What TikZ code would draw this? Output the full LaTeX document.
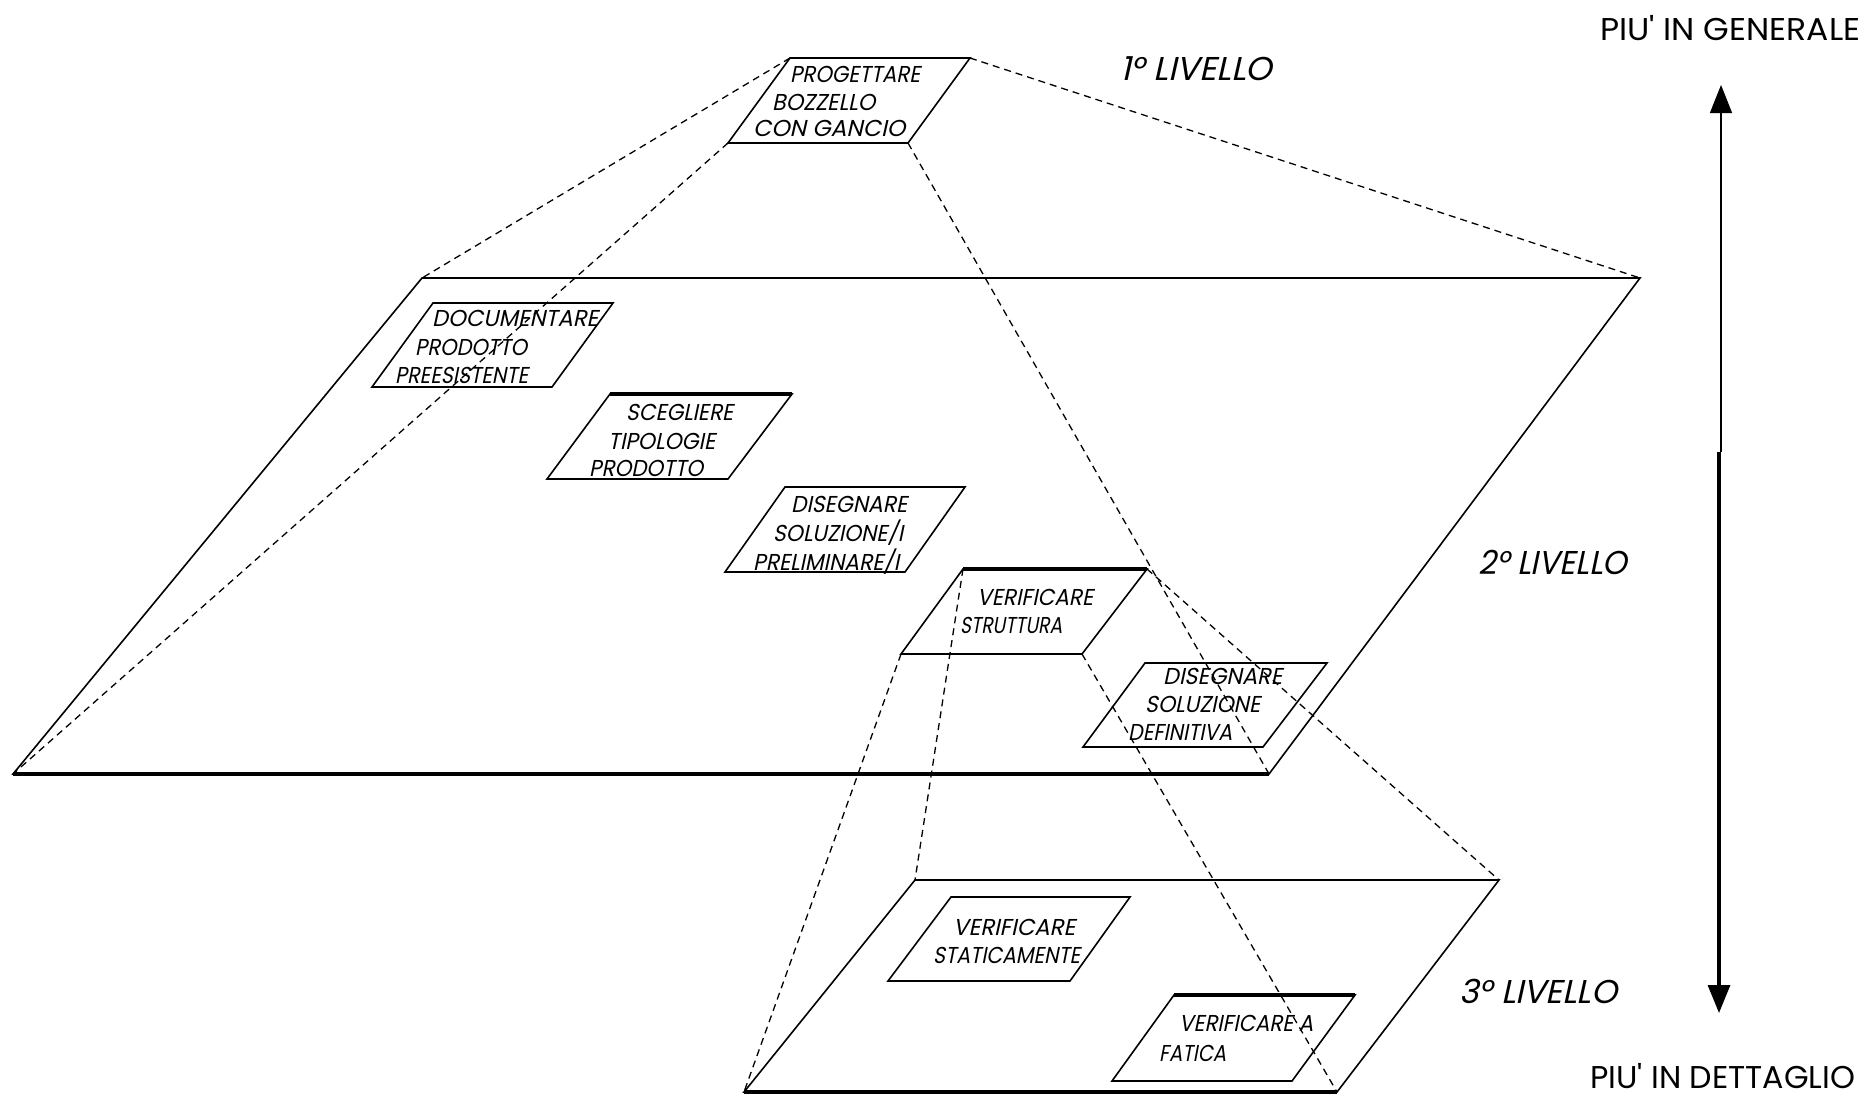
\documentclass[tikz,border=0pt]{standalone}
\usepackage{fontspec}
\usepackage{graphicx}
\usetikzlibrary{arrows.meta}
\newfontfamily\labfont{Poppins}
\newfontfamily\bxfont{Poppins}[FakeSlant=0.22]
\newcommand\fitw[2]{\resizebox{#1pt}{\height}{#2}}
\begin{document}
\begin{tikzpicture}[x=1pt,y=-1pt,
  planeline/.style={line width=1.6pt, line join=miter},
  boldedge/.style={line width=3.4pt, line cap=butt},
  dashline/.style={line width=1.3pt, dash pattern=on 7pt off 5pt},
  bt/.style={font={\bxfont\fontsize{23pt}{24pt}\selectfont}, anchor=base west, inner sep=0pt},
  lvl/.style={font={\bxfont\fontsize{33pt}{34pt}\selectfont}, anchor=base west, inner sep=0pt},
  side/.style={font={\labfont\fontsize{31.5pt}{32pt}\selectfont}, anchor=base west, inner sep=0pt},
  tip/.style={-{Triangle[width=22pt,length=28pt]}}]
\useasboundingbox (0,0) rectangle (1868,1098);
% ---- level 1 box
\coordinate (a1) at (790,58); \coordinate (b1) at (970,58);
\coordinate (c1) at (908,143); \coordinate (d1) at (728,143);
% ---- level 2 plane
\coordinate (A2) at (422,278); \coordinate (B2) at (1640,278);
\coordinate (C2) at (1269,774); \coordinate (D2) at (13,774);
% ---- level 3 plane
\coordinate (A3) at (915,880); \coordinate (B3) at (1499,880);
\coordinate (C3) at (1337,1092); \coordinate (D3) at (744,1092);
% ---- level 2 boxes
\coordinate (doc1) at (433,303); \coordinate (doc2) at (613,303);
\coordinate (doc3) at (552,387); \coordinate (doc4) at (372,387);
\coordinate (sce1) at (610,394); \coordinate (sce2) at (792,394);
\coordinate (sce3) at (728,479); \coordinate (sce4) at (547,479);
\coordinate (dpr1) at (785,487); \coordinate (dpr2) at (965,487);
\coordinate (dpr3) at (905,572); \coordinate (dpr4) at (725,572);
\coordinate (vst1) at (963,569); \coordinate (vst2) at (1147,569);
\coordinate (vst3) at (1082,654); \coordinate (vst4) at (901,654);
\coordinate (def1) at (1145,663); \coordinate (def2) at (1327,663);
\coordinate (def3) at (1263,747); \coordinate (def4) at (1083,747);
% ---- level 3 boxes
\coordinate (vsa1) at (951,897); \coordinate (vsa2) at (1130,897);
\coordinate (vsa3) at (1070,981); \coordinate (vsa4) at (888,981);
\coordinate (fat1) at (1174,995); \coordinate (fat2) at (1355,995);
\coordinate (fat3) at (1292,1081); \coordinate (fat4) at (1112,1081);

% planes and boxes
\draw[planeline] (a1) -- (b1) -- (c1) -- (d1) -- cycle;
\draw[planeline] (A2) -- (B2) -- (C2) -- (D2) -- cycle;
\draw[boldedge] (D2) -- (C2);
\draw[planeline] (A3) -- (B3) -- (C3) -- (D3) -- cycle;
\draw[boldedge] (D3) -- (C3);
\draw[planeline] (doc1) -- (doc2) -- (doc3) -- (doc4) -- cycle;
\draw[planeline] (sce1) -- (sce2) -- (sce3) -- (sce4) -- cycle;
\draw[boldedge] (sce1) -- (sce2);
\draw[planeline] (dpr1) -- (dpr2) -- (dpr3) -- (dpr4) -- cycle;
\draw[planeline] (vst1) -- (vst2) -- (vst3) -- (vst4) -- cycle;
\draw[boldedge] (vst1) -- (vst2);
\draw[planeline] (def1) -- (def2) -- (def3) -- (def4) -- cycle;
\draw[planeline] (vsa1) -- (vsa2) -- (vsa3) -- (vsa4) -- cycle;
\draw[planeline] (fat1) -- (fat2) -- (fat3) -- (fat4) -- cycle;
\draw[boldedge] (fat1) -- (fat2);

% projection lines
\draw[dashline] (a1) -- (A2);
\draw[dashline] (b1) -- (B2);
\draw[dashline] (c1) -- (C2);
\draw[dashline] (d1) -- (D2);
\draw[dashline] (vst1) -- (A3);
\draw[dashline] (vst2) -- (B3);
\draw[dashline] (vst3) -- (C3);
\draw[dashline] (vst4) -- (D3);

% texts level 1
\node[bt] (t1a) at (790,82) {\fitw{130}{PROGETTARE}};
\node[bt] (t1b) at (772,110) {\fitw{103}{BOZZELLO}};
\node[bt] (t1c) at (753,136) {\fitw{152}{CON GANCIO}};
% texts level 2
\node[bt] (tda) at (432,326) {\fitw{166}{DOCUMENTARE}};
\node[bt] (tdb) at (415,355) {\fitw{112}{PRODOTTO}};
\node[bt] (tdc) at (395,383) {\fitw{133}{PREESISTENTE}};
\node[bt] (tsa) at (626,420) {\fitw{107}{SCEGLIERE}};
\node[bt] (tsb) at (608,449) {\fitw{107}{TIPOLOGIE}};
\node[bt] (tsc) at (589,476) {\fitw{114}{PRODOTTO}};
\node[bt] (tpa) at (791,512) {\fitw{116}{DISEGNARE}};
\node[bt] (tpb) at (773,541) {\fitw{130}{SOLUZIONE/I}};
\node[bt] (tpc) at (753,570) {\fitw{146}{PRELIMINARE/I}};
\node[bt] (tva) at (977,605) {\fitw{116}{VERIFICARE}};
\node[bt] (tvb) at (960,633) {\fitw{102}{STRUTTURA}};
\node[bt] (tea) at (1163,684) {\fitw{119}{DISEGNARE}};
\node[bt] (teb) at (1145,712) {\fitw{115}{SOLUZIONE}};
\node[bt] (tec) at (1128,740) {\fitw{104}{DEFINITIVA}};
% texts level 3
\node[bt] (tqa) at (953,935) {\fitw{122}{VERIFICARE}};
\node[bt] (tqb) at (933,963) {\fitw{147}{STATICAMENTE}};
\node[bt] (tfa) at (1179,1031) {\fitw{134}{VERIFICARE A}};
\node[bt] (tfb) at (1159,1061) {\fitw{67}{FATICA}};

% level labels
\node[lvl] (lv1) at (1120,80.5) {\fitw{152}{1° LIVELLO}};
\node[lvl] (lv2) at (1478,574.5) {\fitw{149}{2° LIVELLO}};
\node[lvl] (lv3) at (1459,1003.5) {\fitw{158}{3° LIVELLO}};

% side labels and arrow
\node[side] (gen) at (1600,40) {\fitw{260}{PIU' IN GENERALE}};
\node[side] (det) at (1590,1088) {\fitw{265}{PIU' IN DETTAGLIO}};
\coordinate (amid) at (1721,452);
\coordinate (amid2) at (1719,452);
\coordinate (atop) at (1721,85);
\coordinate (abot) at (1719,1013);
\draw[line width=1.3pt, tip] (amid) -- (atop);
\draw[line width=3.2pt, tip] (amid2) -- (abot);
\end{tikzpicture}
\end{document}
